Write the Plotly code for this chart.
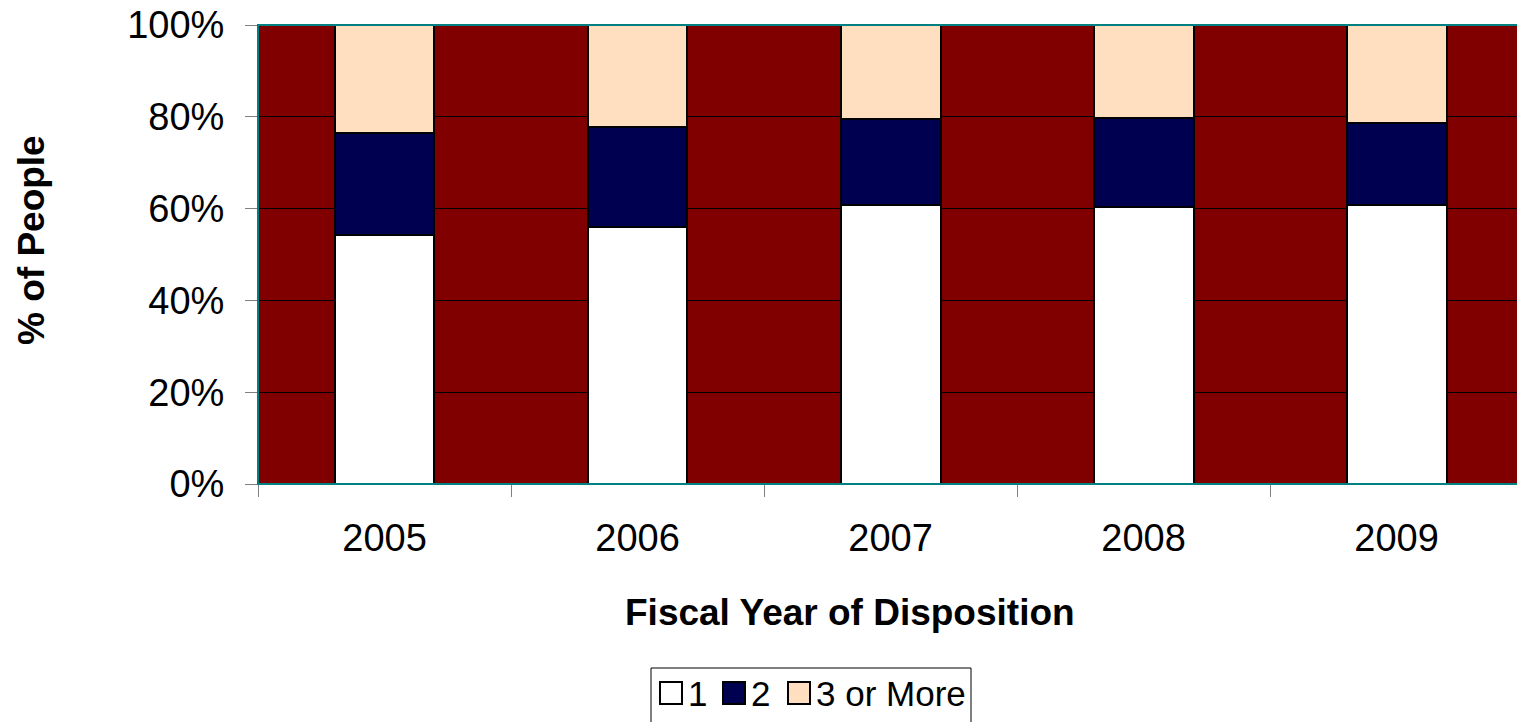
import plotly.graph_objects as go

years = ["2005", "2006", "2007", "2008", "2009"]
one = [54.2, 56.0, 60.8, 60.3, 60.8]
two = [22.3, 21.8, 18.7, 19.4, 17.8]
three_plus = [23.5, 22.2, 20.5, 20.3, 21.4]
y_ticks = [0, 20, 40, 60, 80, 100]
y_tick_text = ["0%", "20%", "40%", "60%", "80%", "100%"]

series = [
    ("1", one, "#FFFFFF"),
    ("2", two, "#000050"),
    ("3 or More", three_plus, "#FFDFBF"),
]

FONT = "Liberation Sans, Arial, sans-serif"
W, H = 1517, 722
L, R, T, B = 258, 0, 25, 238
PW, PH = W - L - R, H - T - B


def px(x):
    return (x - L) / PW


def py(y):
    return (H - B - y) / PH


fig = go.Figure()
for name, vals, color in series:
    fig.add_trace(go.Bar(
        x=years, y=vals, name=name,
        marker=dict(color=color, line=dict(color="#000000", width=2)),
        width=0.395, showlegend=False,
    ))

annotations = [
    dict(text="<b>Fiscal Year of Disposition</b>", x=px(850), y=py(612),
         xanchor="center", yanchor="middle", font=dict(size=37)),
    dict(text="<b>% of People</b>", x=px(32), y=py(240), textangle=-90,
         xanchor="center", yanchor="middle", font=dict(size=37)),
]

shapes = [
    # plot-area frame
    dict(type="rect", x0=0, x1=1.01, y0=0, y1=1,
         line=dict(color="#008080", width=2), layer="above"),
    # legend box
    dict(type="rect", x0=px(651), x1=px(971), y0=py(668), y1=py(735),
         line=dict(color="#000000", width=1), fillcolor="#FFFFFF"),
]

# legend entries: swatch + label
legend_items = [(660, 686), (723, 749), (788, 814)]
for (sx, tx), (name, _, color) in zip(legend_items, series):
    shapes.append(dict(type="rect", x0=px(sx), x1=px(sx + 22), y0=py(682), y1=py(704),
                       line=dict(color="#000000", width=2), fillcolor=color))
    annotations.append(dict(text=name, x=px(tx), y=py(693), xanchor="left",
                            yanchor="middle", font=dict(size=35)))

for a in annotations:
    a.update(xref="paper", yref="paper", showarrow=False)
for s in shapes:
    s.update(xref="paper", yref="paper")

fig.update_layout(
    barmode="stack",
    width=W, height=H,
    margin=dict(l=L, r=R, t=T, b=B),
    paper_bgcolor="#FFFFFF",
    plot_bgcolor="#800000",
    font=dict(family=FONT, size=37, color="#000000"),
    showlegend=False,
    xaxis=dict(
        range=[-0.5, 4.476],
        tickson="boundaries", ticks="outside", ticklen=12, tickcolor="#808080",
        showgrid=False, showline=False, zeroline=False,
        tickfont=dict(size=38), ticklabelstandoff=28,
    ),
    yaxis=dict(
        range=[0, 100], tickvals=y_ticks, ticktext=y_tick_text,
        ticks="outside", ticklen=12, tickcolor="#808080",
        showgrid=True, gridcolor="#000000", gridwidth=1,
        showline=False, zeroline=False,
        tickfont=dict(size=38), ticklabelstandoff=13,
    ),
    annotations=annotations,
    shapes=shapes,
)

fig.write_html("out.html")
